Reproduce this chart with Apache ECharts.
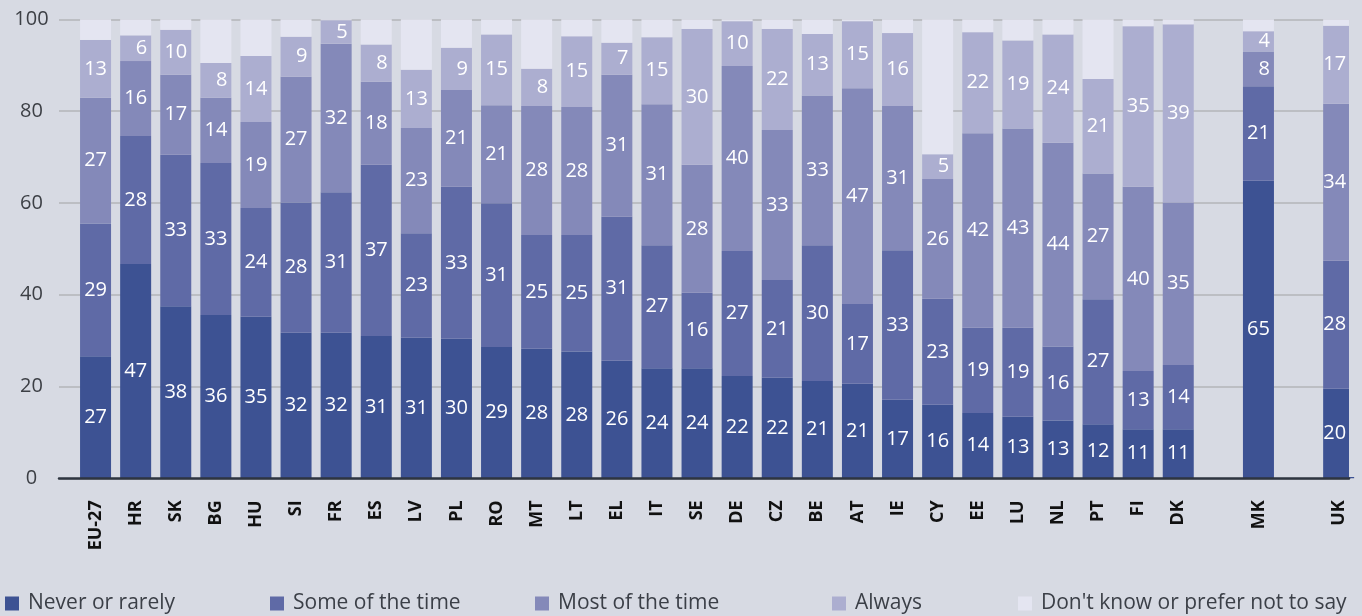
<!DOCTYPE html>
<html>
<head>
<meta charset="utf-8">
<script src="https://cdn.jsdelivr.net/npm/echarts@6/dist/echarts.min.js"></script>
<style>
html,body{margin:0;padding:0;background:#d7dae3;}
#chart{width:1362px;height:616px;}
</style>
</head>
<body>
<div id="chart"></div>
<script>
// Categories ('' = empty slot between groups)
const categories = ['EU-27','HR','SK','BG','HU','SI','FR','ES','LV','PL','RO','MT','LT','EL','IT','SE','DE','CZ','BE','AT','IE','CY','EE','LU','NL','PT','FI','DK','','MK','','UK'];

const seriesNames = ['Never or rarely','Some of the time','Most of the time','Always',"Don't know or prefer not to say"];

const neverRarely = [26.6,46.7,37.5,35.6,35.2,31.7,31.7,31.0,30.6,30.4,28.6,28.2,27.6,25.6,24.0,24.0,22.3,21.9,21.2,20.6,17.1,16.0,14.2,13.4,12.6,11.8,10.7,10.7,null,64.8,null,19.5];
const someTime    = [28.9,27.9,33.0,33.1,23.7,28.4,30.6,37.3,22.8,33.1,31.3,24.8,25.4,31.4,26.8,16.4,27.2,21.3,29.6,17.4,32.6,23.1,18.6,19.4,16.1,27.2,12.7,14.0,null,20.6,null,27.9];
const mostTime    = [27.4,16.3,17.4,14.2,18.7,27.4,32.4,18.1,22.9,21.1,21.4,28.1,27.9,30.9,30.7,27.9,40.3,32.7,32.6,47.0,31.4,26.1,42.4,43.4,44.4,27.4,40.1,35.4,null,7.6,null,34.2];
const always      = [12.6,5.6,9.8,7.6,14.4,8.7,5.1,8.1,12.7,9.2,15.4,8.1,15.4,7.0,14.6,29.6,9.8,22.0,13.4,14.6,15.9,5.4,22.0,19.2,23.6,20.6,35.0,38.8,null,4.4,null,17.0];
const dontKnow    = [4.5,3.5,2.3,9.5,8.0,3.8,0.5,5.5,11.0,6.2,3.3,10.8,3.7,5.1,3.9,2.1,0.7,2.1,3.2,0.4,3.0,29.4,2.8,4.6,3.3,13.0,1.5,1.1,null,2.6,null,1.4];

const yTicks = [0,20,40,60,80,100];

const BG = '#d7dae3';
const colors = ['#3d5293','#5f6aa6','#8489b9','#acaed0','#e4e5f1'];
const values = [neverRarely, someTime, mostTime, always, dontKnow];
const FONT = "'Open Sans', sans-serif";

const chart = echarts.init(document.getElementById('chart'), null, {renderer:'canvas'});

// the last bar is cut by the plot edge in the original; its labels sit inside the cut bar
const lastIdx = categories.length - 1;

const series = values.map((arr, k) => ({
  name: seriesNames[k],
  type: 'bar',
  stack: 'total',
  xAxisIndex: 1,
  yAxisIndex: 1,
  barWidth: 31,
  itemStyle: {color: colors[k]},
  emphasis: {disabled: true},
  label: {
    show: k < 4,
    position: ['100%','50%'],
    align: 'right',
    verticalAlign: 'middle',
    offset: [-4, 0],
    color: '#ffffff',
    fontFamily: FONT,
    fontSize: 20,
    formatter: p => Math.round(p.value)
  },
  data: arr.map((v, i) => i === lastIdx ? {value: v, label: {offset: [-8, 0]}} : v)
}));

const legendLefts = [5, 270, 535, 832, 1018];
const legends = seriesNames.map((n, k) => ({
  data: [n],
  left: legendLefts[k],
  top: 593,
  padding: 0,
  icon: 'rect',
  itemWidth: 14,
  itemHeight: 14,
  selectedMode: false,
  textStyle: {fontFamily: FONT, fontSize: 21, color: '#3b3f47', padding: [0,0,0,4]}
}));

chart.setOption({
  backgroundColor: BG,
  animation: false,
  color: colors,
  legend: legends,
  grid: [
    {left: 59, right: 13, top: 19.3, bottom: 137.7, containLabel: false},
    {left: 75.5, width: 1283.2, top: 19.3, bottom: 137.7, containLabel: false}
  ],
  xAxis: [
    {
      gridIndex: 0,
      type: 'value',
      min: 0, max: 1,
      splitLine: {show: false},
      axisTick: {show: false},
      axisLabel: {show: false},
      axisLine: {show: true, onZero: false, lineStyle: {color: '#2e3540', width: 2.5}},
      z: 5
    },
    {
      gridIndex: 1,
      type: 'category',
      data: categories,
      axisLine: {show: false},
      axisTick: {show: false},
      axisLabel: {
        interval: 0,
        rotate: 90,
        margin: 22,
        fontFamily: FONT,
        fontWeight: 'bold',
        fontSize: 18,
        color: '#111111'
      }
    }
  ],
  yAxis: [
    {
      gridIndex: 0,
      type: 'value',
      min: 0,
      max: 100,
      interval: 20,
      axisLine: {show: false},
      axisTick: {show: false},
      splitLine: {show: true, lineStyle: {color: '#b3b5b9', width: 1.5}},
      axisLabel: {
        formatter: v => yTicks.indexOf(v) >= 0 ? '{a|' + v + '}' : '',
        align: 'right',
        margin: 7.5,
        rich: {a: {width: 40, align: 'center', fontFamily: FONT, fontSize: 20, color: '#3c3f45'}}
      }
    },
    {
      gridIndex: 1,
      type: 'value',
      min: 0,
      max: 100,
      show: false
    }
  ],
  graphic: [{
    type: 'rect',
    left: 1349,
    top: 0,
    shape: {width: 13, height: 477},
    style: {fill: BG},
    z: 100,
    silent: true
  }],
  series: series
});
</script>
</body>
</html>
